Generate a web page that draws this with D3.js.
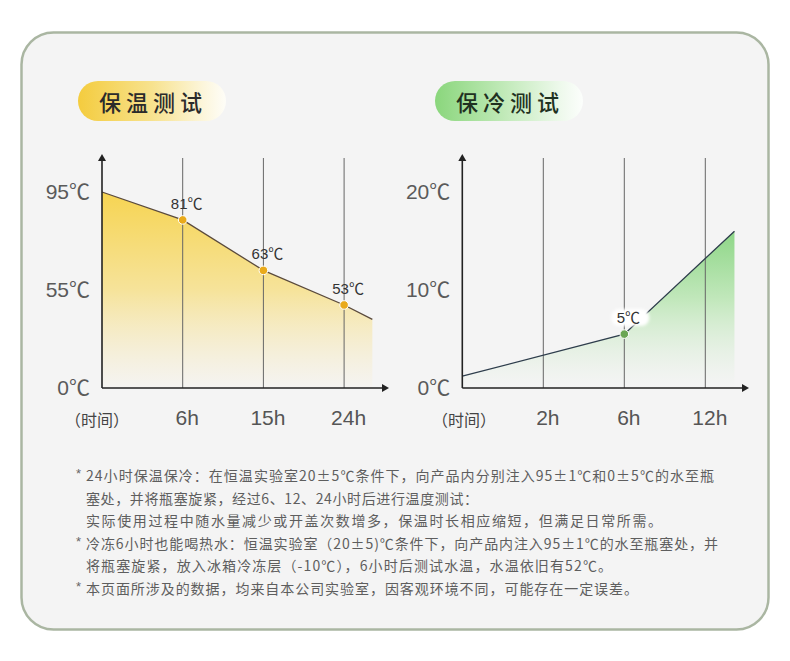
<!DOCTYPE html>
<html>
<head>
<meta charset="utf-8">
<script src="https://cdn.jsdelivr.net/npm/d3@7/dist/d3.min.js"></script>
<style>
	html, body { margin: 0; padding: 0; background: #fff; }
	svg { display: block; }
</style>
</head>
<body>
<div class="chart"></div>
<script>
// hot test (保温测试) - temps, labels as printed
var hotCategories = ['', '6h', '15h', '24h'];
var hotSteps = [0, 1, 2, 3, 3.35];
var hotTemps = [95, 83.6, 63, 46.6, 38.5];
var hotMarked = [1, 2, 3];
var hotMarkLabels = ['81℃', '63℃', '53℃'];
var hotTicks = [0, 55, 95];

// cold test (保冷测试)
var coldCategories = ['', '2h', '6h', '12h'];
var coldSteps = [0, 2, 3.36];
var coldTemps = [1.2, 5.5, 16];
var coldMarked = [1];
var coldMarkLabels = ['5℃'];
var coldTicks = [0, 10, 20];

var notes = [
	{star: true, text: '24小时保温保冷：在恒温实验室20±5℃条件下，向产品内分别注入95±1℃和0±5℃的水至瓶', len: 628},
	{star: false, text: '塞处，并将瓶塞旋紧，经过6、12、24小时后进行温度测试：', len: 392},
	{star: false, text: '实际使用过程中随水量减少或开盖次数增多，保温时长相应缩短，但满足日常所需。', len: 576},
	{star: true, text: '冷冻6小时也能喝热水：恒温实验室（20±5)℃条件下，向产品内注入95±1℃的水至瓶塞处，并', len: 632},
	{star: false, text: '将瓶塞旋紧，放入冰箱冷冻层（-10℃），6小时后测试水温，水温依旧有52℃。', len: 526},
	{star: true, text: '本页面所涉及的数据，均来自本公司实验室，因客观环境不同，可能存在一定误差。', len: 552}
];

var width = 790,
	height = 661,
	cjk = '"Noto Sans CJK SC", sans-serif',
	num = '"Liberation Sans", Arial, "Noto Sans CJK SC", sans-serif';

var svg = d3.select('.chart').append('svg')
	.attr('width', width)
	.attr('height', height);
var defs = svg.append('defs');

function linearGrad(id, x1, y1, x2, y2, stops) {
	var g = defs.append('linearGradient')
		.attr('id', id)
		.attr('gradientUnits', 'userSpaceOnUse')
		.attr('x1', x1).attr('y1', y1)
		.attr('x2', x2).attr('y2', y2);
	stops.forEach(function(s) {
		g.append('stop')
			.attr('offset', s[0])
			.attr('stop-color', s[1])
			.attr('stop-opacity', s[2] == null ? 1 : s[2]);
	});
}

linearGrad('hotPill', 78, 0, 226, 0, [[0, '#f4cc3e'], [0.5, '#f7e28e'], [0.85, '#fcf6dc'], [1, '#fefdf8']]);
linearGrad('coldPill', 435, 0, 583, 0, [[0, '#8ad67c'], [0.5, '#c5ebbd'], [0.85, '#eef9ec'], [1, '#fcfefc']]);
linearGrad('hotArea', 0, 192, 0, 388, [[0, '#f6d452'], [0.5, '#f6e39a'], [1, '#f5f3ef', 0.6]]);
linearGrad('coldArea', 0, 230, 0, 388, [[0, '#8dd686'], [0.45, '#c3e8bd'], [1, '#f4f4f4', 0.4]]);

var blur = defs.append('filter').attr('id', 'soft')
	.attr('x', '-30%').attr('y', '-50%').attr('width', '160%').attr('height', '200%');
blur.append('feGaussianBlur').attr('stdDeviation', 1.5);

// card
svg.append('rect')
	.attr('x', 21.5).attr('y', 32.5)
	.attr('width', 747).attr('height', 597)
	.attr('rx', 32)
	.attr('fill', '#f4f4f4')
	.attr('stroke', '#aab6a2')
	.attr('stroke-width', 2.5);

function drawPanel(o) {
	var g = svg.append('g');

	var x = d3.scaleLinear().domain([0, 3]).range([o.left, o.left + 3 * o.step]);
	var y = d3.scaleLinear().domain(o.yDomain).range(o.yRange);
	var base = y(0);

	// title pill
	g.append('rect')
		.attr('x', o.pillX).attr('y', 81)
		.attr('width', 148).attr('height', 40)
		.attr('rx', 20)
		.attr('fill', 'url(#' + o.pillGrad + ')');
	g.append('text')
		.attr('x', o.pillX + 21).attr('y', 111)
		.attr('font-family', cjk)
		.attr('font-size', 22)
		.attr('font-weight', 500)
		.attr('letter-spacing', 5)
		.attr('fill', o.titleColor)
		.text(o.title);

	// area + line
	var pts = o.steps.map(function(s, i) { return [s, o.temps[i]]; });
	var area = d3.area()
		.x(function(d) { return x(d[0]); })
		.y0(base)
		.y1(function(d) { return y(d[1]); });
	var line = d3.line()
		.x(function(d) { return x(d[0]); })
		.y(function(d) { return y(d[1]); });

	g.append('path')
		.attr('d', area(pts))
		.attr('fill', 'url(#' + o.areaGrad + ')');

	// vertical guides
	g.selectAll('.guide')
		.data([1, 2, 3])
		.enter().append('line')
		.attr('class', 'guide')
		.attr('x1', x).attr('x2', x)
		.attr('y1', 158).attr('y2', base)
		.attr('stroke', '#666')
		.attr('stroke-width', 1);

	g.append('path')
		.attr('d', line(pts))
		.attr('fill', 'none')
		.attr('stroke', o.lineColor)
		.attr('stroke-width', 1.3);

	// axes with arrows
	g.append('line')
		.attr('x1', o.left).attr('x2', o.left)
		.attr('y1', base).attr('y2', 158)
		.attr('stroke', '#222').attr('stroke-width', 1.6);
	g.append('path')
		.attr('d', 'M' + (o.left - 4) + ',' + 161 + 'L' + o.left + ',' + 154 + 'L' + (o.left + 4) + ',' + 161 + 'Z')
		.attr('fill', '#222');
	g.append('line')
		.attr('x1', o.left).attr('x2', o.axisEnd - 4)
		.attr('y1', base).attr('y2', base)
		.attr('stroke', '#222').attr('stroke-width', 1.6);
	g.append('path')
		.attr('d', 'M' + (o.axisEnd - 7) + ',' + (base - 4) + 'L' + o.axisEnd + ',' + base + 'L' + (o.axisEnd - 7) + ',' + (base + 4) + 'Z')
		.attr('fill', '#222');

	var yAxis = g.append('g')
		.attr('transform', 'translate(' + o.left + ',0)')
		.call(d3.axisLeft(y).tickValues(o.ticks).tickSize(0).tickPadding(12)
			.tickFormat(function(d) { return d + '℃'; }));
	yAxis.select('.domain').remove();
	yAxis.selectAll('text')
		.attr('font-family', num)
		.attr('font-size', 21)
		.attr('fill', '#5a5a5a');

	var xAxis = g.append('g')
		.attr('transform', 'translate(0,' + base + ')')
		.call(d3.axisBottom(x).tickValues([1, 2, 3]).tickSize(0).tickPadding(22)
			.tickFormat(function(i) { return o.categories[i]; }));
	xAxis.select('.domain').remove();
	xAxis.selectAll('text')
		.attr('dx', 4)
		.attr('font-family', num)
		.attr('font-size', 21)
		.attr('fill', '#555');

	g.append('text')
		.attr('x', o.timeX).attr('y', 426)
		.attr('text-anchor', 'middle')
		.attr('font-family', cjk)
		.attr('font-size', 16)
		.attr('fill', '#444')
		.text('（时间）');

	// markers
	o.marked.forEach(function(i, k) {
		var cx = x(o.steps[i]), cy = y(o.temps[i]);
		if (o.labelBox) {
			g.append('rect')
				.attr('x', cx - 13).attr('y', cy - 25)
				.attr('width', 38).attr('height', 17)
				.attr('rx', 8)
				.attr('fill', '#fff')
				.attr('filter', 'url(#soft)');
		}
		g.append('text')
			.attr('x', cx + 4).attr('y', cy - 11)
			.attr('text-anchor', 'middle')
			.attr('font-family', num)
			.attr('font-size', 15)
			.attr('fill', '#333')
			.text(o.markLabels[k]);
		g.append('circle')
			.attr('cx', cx).attr('cy', cy)
			.attr('r', 4.3)
			.attr('fill', o.dotColor)
			.attr('stroke', '#fff')
			.attr('stroke-width', 1);
	});
}

drawPanel({
	title: '保温测试', titleColor: '#2b2b2b', pillX: 78, pillGrad: 'hotPill',
	left: 102, step: 80.7, axisEnd: 389, timeX: 97,
	yDomain: [0, 55, 95], yRange: [388, 290, 192], ticks: hotTicks,
	categories: hotCategories, steps: hotSteps, temps: hotTemps,
	marked: hotMarked, markLabels: hotMarkLabels,
	areaGrad: 'hotArea', lineColor: '#5a4a3c', dotColor: '#e9aa1b'
});

drawPanel({
	title: '保冷测试', titleColor: '#1f3121', pillX: 435, pillGrad: 'coldPill',
	left: 462.3, step: 81, axisEnd: 749, timeX: 464,
	yDomain: [0, 20], yRange: [388, 192], ticks: coldTicks,
	categories: coldCategories, steps: coldSteps, temps: coldTemps,
	marked: coldMarked, markLabels: coldMarkLabels, labelBox: true,
	areaGrad: 'coldArea', lineColor: '#2e3d4c', dotColor: '#6aa653'
});

// footnotes
var noteG = svg.append('g');
notes.forEach(function(n, i) {
	var yy = 481 + i * 22.5;
	if (n.star) {
		noteG.append('text')
			.attr('x', 76).attr('y', yy - 3)
			.attr('font-family', num)
			.attr('font-size', 13)
			.attr('fill', '#666')
			.text('*');
	}
	noteG.append('text')
		.attr('x', 86).attr('y', yy)
		.attr('font-family', cjk)
		.attr('font-size', 14)
		.attr('fill', '#5e5e5e')
		.attr('textLength', n.len)
		.attr('lengthAdjust', 'spacing')
		.text(n.text);
});
</script>
</body>
</html>
